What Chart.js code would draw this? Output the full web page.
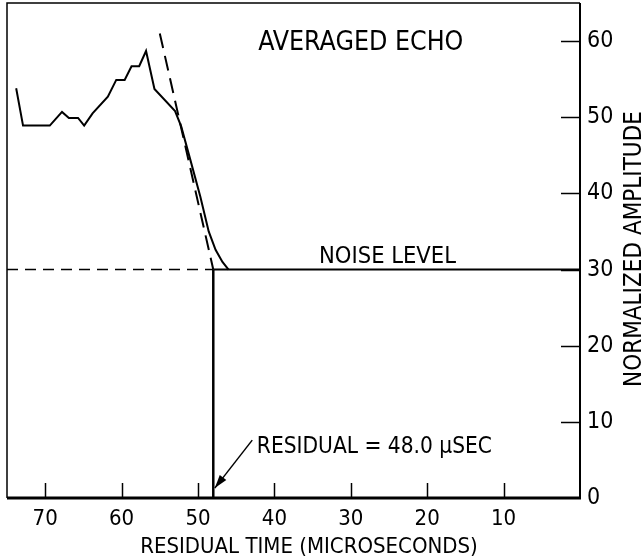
<!DOCTYPE html>
<html>
<head>
<meta charset="utf-8">
<script src="https://cdn.jsdelivr.net/npm/chart.js@4.4.1/dist/chart.umd.min.js"></script>
<style>
  body { margin: 0; background: #fff; }
</style>
</head>
<body>
<canvas id="echo" width="642" height="560"></canvas>
<script>
// averaged echo trace (residual time in microseconds, normalized amplitude)
let echoTime = [73.8, 72.9, 69.4, 67.8, 66.9, 65.7, 64.9, 63.8, 61.8, 60.7, 59.6, 58.7, 57.7, 56.8, 55.7, 53.0, 52.2, 51.0, 49.7, 48.6, 47.7, 46.8, 46.0];
let echoAmp = [53.8, 48.9, 48.9, 50.7, 49.9, 49.9, 48.9, 50.5, 52.7, 54.9, 54.9, 56.7, 56.7, 58.7, 53.7, 50.8, 48.8, 44.4, 39.6, 35.0, 32.6, 31.0, 30.0];

// dashed tangent to the leading edge
let tangentTime = [55.0, 48.0];
let tangentAmp = [61.0, 30.0];

let noiseLevel = 30;
let residual = 48.0;
let timeMax = 75;
let ampMax = 65;

let xTicks = [70, 60, 50, 40, 30, 20, 10];
let yTicks = [0, 10, 20, 30, 40, 50, 60];

const FONT = "'DejaVu Sans Condensed', 'Liberation Sans Narrow', sans-serif";

function pts(xs, ys) {
  return xs.map((x, i) => ({ x: x, y: ys[i] }));
}

// frame, inward ticks, notes and axis titles
const decor = {
  id: 'decor',
  afterDatasetsDraw(chart) {
    const ctx = chart.ctx;
    const a = chart.chartArea;
    const xs = chart.scales.x, ys = chart.scales.y;
    ctx.save();
    ctx.strokeStyle = '#000';
    ctx.lineCap = 'butt';

    // frame
    ctx.lineWidth = 1.5;
    ctx.beginPath();
    ctx.moveTo(a.left, a.bottom); ctx.lineTo(a.left, a.top); ctx.lineTo(a.right, a.top);
    ctx.stroke();
    ctx.lineWidth = 2;
    ctx.beginPath();
    ctx.moveTo(a.right, a.top); ctx.lineTo(a.right, a.bottom);
    ctx.stroke();
    ctx.lineWidth = 3;
    ctx.beginPath();
    ctx.moveTo(a.left, a.bottom); ctx.lineTo(a.right + 1, a.bottom);
    ctx.stroke();

    // ticks pointing inwards
    ctx.lineWidth = 1.5;
    xTicks.forEach(v => {
      const px = Math.round(xs.getPixelForValue(v)) + 0.5;
      ctx.beginPath(); ctx.moveTo(px, a.bottom); ctx.lineTo(px, a.bottom - 15); ctx.stroke();
    });
    yTicks.forEach(v => {
      if (v === 0) return;
      const py = Math.round(ys.getPixelForValue(v)) + 0.5;
      ctx.beginPath(); ctx.moveTo(a.right, py); ctx.lineTo(a.right - 19, py); ctx.stroke();
    });

    // texts
    ctx.fillStyle = '#000';
    ctx.textBaseline = 'alphabetic';
    ctx.font = '26.5px ' + FONT;
    ctx.textAlign = 'center';
    ctx.fillText('AVERAGED ECHO', xs.getPixelForValue(28.7), ys.getPixelForValue(58.8));
    ctx.font = '23.5px ' + FONT;
    ctx.fillText('NOISE LEVEL', xs.getPixelForValue(25.2), ys.getPixelForValue(30.9));
    ctx.textAlign = 'left';
    ctx.font = '22.5px ' + FONT;
    ctx.fillText('RESIDUAL = 48.0 \u03bcSEC', xs.getPixelForValue(42.3), ys.getPixelForValue(5.9));

    // arrow to the residual point
    const x0 = xs.getPixelForValue(42.9), y0 = ys.getPixelForValue(7.6);
    const x1 = xs.getPixelForValue(residual - 0.2), y1 = ys.getPixelForValue(1.3);
    ctx.lineWidth = 1.5;
    ctx.beginPath(); ctx.moveTo(x0, y0); ctx.lineTo(x1, y1); ctx.stroke();
    const ang = Math.atan2(y1 - y0, x1 - x0);
    ctx.beginPath();
    ctx.moveTo(x1, y1);
    ctx.lineTo(x1 - 14 * Math.cos(ang - 0.3), y1 - 14 * Math.sin(ang - 0.3));
    ctx.lineTo(x1 - 14 * Math.cos(ang + 0.3), y1 - 14 * Math.sin(ang + 0.3));
    ctx.closePath();
    ctx.fill();

    // x axis title
    ctx.font = '22px ' + FONT;
    ctx.textAlign = 'center';
    ctx.textBaseline = 'alphabetic';
    ctx.fillText('RESIDUAL TIME (MICROSECONDS)', 309, 553);

    // y axis title, reading bottom to top
    ctx.font = '24px ' + FONT;
    ctx.textBaseline = 'alphabetic';
    ctx.translate(641, 249);
    ctx.rotate(-Math.PI / 2);
    ctx.fillText('NORMALIZED AMPLITUDE', 0, 0);
    ctx.restore();
  }
};

let kanvas = document.getElementById('echo');

let grafik = new Chart(kanvas, {
  type: 'scatter',
  data: {
    datasets: [
      { label: 'echo', data: pts(echoTime, echoAmp), showLine: true, borderColor: '#000', borderWidth: 2, pointRadius: 0, tension: 0 },
      { label: 'tangent', data: pts(tangentTime, tangentAmp), showLine: true, borderColor: '#000', borderWidth: 2, borderDash: [15, 8], pointRadius: 0 },
      { label: 'noise dashed', data: pts([timeMax, residual], [noiseLevel, noiseLevel]), showLine: true, borderColor: '#000', borderWidth: 1.5, borderDash: [11, 7], pointRadius: 0 },
      { label: 'noise', data: pts([residual, 0], [noiseLevel, noiseLevel]), showLine: true, borderColor: '#000', borderWidth: 2, pointRadius: 0 },
      { label: 'residual', data: pts([residual, residual], [0, noiseLevel]), showLine: true, borderColor: '#000', borderWidth: 2.5, pointRadius: 0 }
    ]
  },
  options: {
    responsive: false,
    animation: false,
    devicePixelRatio: 1,
    layout: { padding: { left: 7, top: 3, right: 0, bottom: 0 } },
    plugins: { legend: { display: false }, tooltip: { enabled: false } },
    scales: {
      x: {
        type: 'linear',
        reverse: true,
        min: 0,
        max: timeMax,
        grid: { display: false, drawTicks: false },
        border: { display: false },
        ticks: {
          stepSize: 10,
          includeBounds: false,
          color: '#000',
          padding: 8,
          maxRotation: 0,
          font: { family: FONT, size: 22 },
          callback: v => (v === 0 ? '' : v)
        },
        afterFit: s => { s.height = 62; s.paddingLeft = 0; s.paddingRight = 0; }
      },
      y: {
        position: 'right',
        min: 0,
        max: ampMax,
        grid: { display: false, drawTicks: false },
        border: { display: false },
        ticks: {
          stepSize: 10,
          includeBounds: false,
          color: '#000',
          padding: 7,
          font: { family: FONT, size: 23 }
        },
        afterFit: s => { s.width = 62; s.paddingTop = 0; s.paddingBottom = 0; }
      }
    }
  },
  plugins: [decor]
});
</script>
</body>
</html>
